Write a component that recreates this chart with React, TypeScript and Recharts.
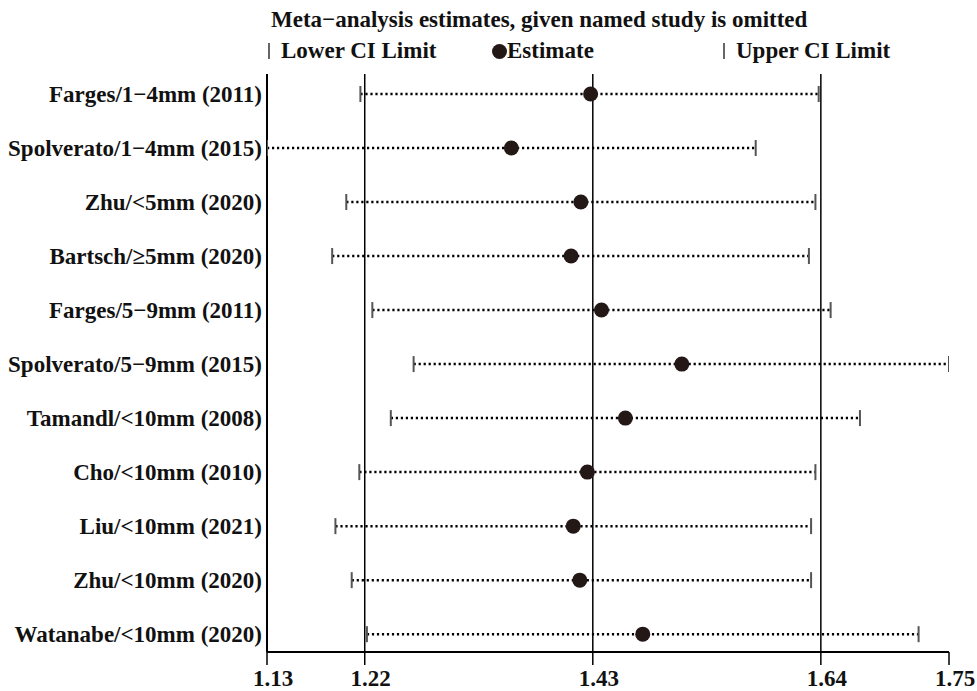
import React from "react";
import {
  ScatterChart,
  Scatter,
  XAxis,
  YAxis,
  ReferenceLine,
} from "recharts";

// studies in display order (top to bottom)
const studies = [
  "Farges/1−4mm (2011)",
  "Spolverato/1−4mm (2015)",
  "Zhu/<5mm (2020)",
  "Bartsch/≥5mm (2020)",
  "Farges/5−9mm (2011)",
  "Spolverato/5−9mm (2015)",
  "Tamandl/<10mm (2008)",
  "Cho/<10mm (2010)",
  "Liu/<10mm (2021)",
  "Zhu/<10mm (2020)",
  "Watanabe/<10mm (2020)",
];

const lowerCI = [1.216, 1.13, 1.203, 1.19, 1.227, 1.265, 1.244, 1.215, 1.193, 1.208, 1.222];
const estimate = [1.428, 1.355, 1.419, 1.41, 1.438, 1.512, 1.46, 1.425, 1.412, 1.418, 1.476];
const upperCI = [1.638, 1.58, 1.635, 1.629, 1.649, 1.758, 1.676, 1.635, 1.631, 1.631, 1.73];

const xTicks = [1.13, 1.22, 1.43, 1.64, 1.758];
const refLines = [1.22, 1.43, 1.64];

const FONT = "'Liberation Serif', 'Times New Roman', serif";
const FS = 23;
const DOT = "#231815";
const CAP = "#555555";

const toPoints = (vals: number[]) => vals.map((v, i) => ({ x: v, y: i }));

const CapShape = (props: any) => (
  <line
    x1={props.cx}
    x2={props.cx}
    y1={props.cy - 8}
    y2={props.cy + 8}
    stroke={CAP}
    strokeWidth={2}
  />
);

const DotShape = (props: any) => <circle cx={props.cx} cy={props.cy} r={7.5} fill={DOT} />;

const fmtTick = (v: number) => (Math.floor(v * 100 + 1e-6) / 100).toFixed(2);

export default function App() {
  const textStyle: React.CSSProperties = {
    position: "absolute",
    fontFamily: FONT,
    fontWeight: "bold",
    fontSize: FS,
    lineHeight: `${FS}px`,
    color: "#111",
    whiteSpace: "nowrap",
  };

  return (
    <div style={{ position: "absolute", left: 0, top: 0, width: 977, height: 691, background: "#fff" }}>
      <div style={{ ...textStyle, left: 271, top: 8 }}>
        Meta−analysis estimates, given named study is omitted
      </div>
      <div style={{ position: "absolute", left: 268, top: 43, width: 2, height: 16, background: "#666" }} />
      <div style={{ ...textStyle, left: 281, top: 39 }}>Lower CI Limit</div>
      <div style={{ position: "absolute", left: 492, top: 44, width: 15, height: 15, borderRadius: "50%", background: DOT }} />
      <div style={{ ...textStyle, left: 507, top: 39 }}>Estimate</div>
      <div style={{ position: "absolute", left: 723, top: 43, width: 2, height: 16, background: "#666" }} />
      <div style={{ ...textStyle, left: 736, top: 39 }}>Upper CI Limit</div>

      <ScatterChart
        width={977}
        height={691}
        margin={{ top: 74, right: 28, bottom: 0, left: 0 }}
        style={{ position: "absolute", left: 0, top: 0 }}
      >
        <XAxis
          type="number"
          dataKey="x"
          domain={[1.13, 1.758]}
          ticks={xTicks}
          tickFormatter={fmtTick}
          height={39}
          tickSize={13}
          tickMargin={5}
          axisLine={{ stroke: "#000", strokeWidth: 2 }}
          tickLine={{ stroke: "#000", strokeWidth: 1.5 }}
          tick={{ fill: "#111", fontFamily: FONT, fontWeight: "bold", fontSize: FS, dx: 6 }}
          allowDataOverflow
        />
        <YAxis
          type="number"
          dataKey="y"
          domain={[-0.37, 10.33]}
          ticks={studies.map((_, i) => i)}
          tickFormatter={(i: number) => studies[i] ?? ""}
          reversed
          width={267}
          tickSize={3}
          tickMargin={2}
          tickLine={false}
          axisLine={{ stroke: "#000", strokeWidth: 2 }}
          tick={{ fill: "#111", fontFamily: FONT, fontWeight: "bold", fontSize: FS }}
          interval={0}
          allowDataOverflow
        />
        {refLines.map((v) => (
          <ReferenceLine key={`ref-${v}`} x={v} stroke="#000" strokeWidth={1.5} />
        ))}
        {studies.map((s, i) => (
          <ReferenceLine
            key={`ci-${i}`}
            segment={[
              { x: lowerCI[i], y: i },
              { x: upperCI[i], y: i },
            ]}
            stroke="#000"
            strokeWidth={2.5}
            strokeDasharray="2.2 2.8"
            ifOverflow="visible"
          />
        ))}
        <Scatter data={toPoints(lowerCI)} shape={CapShape} isAnimationActive={false} />
        <Scatter data={toPoints(upperCI)} shape={CapShape} isAnimationActive={false} />
        <Scatter data={toPoints(estimate)} shape={DotShape} isAnimationActive={false} />
      </ScatterChart>
    </div>
  );
}
